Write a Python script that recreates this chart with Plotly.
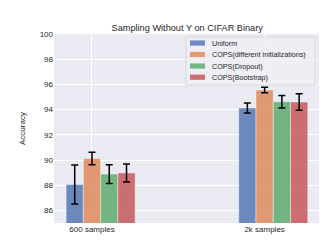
import plotly.graph_objects as go

categories = ["600 samples", "2k samples"]
series_names = ["Uniform", "COPS(different initializations)", "COPS(Dropout)", "COPS(Bootstrap)"]
means = [
    [88.05, 94.13],
    [90.12, 95.55],
    [88.88, 94.62],
    [88.97, 94.6],
]
errors = [
    [1.55, 0.4],
    [0.5, 0.22],
    [0.75, 0.5],
    [0.72, 0.66],
]
colors = ["#4C72B0", "#DD8452", "#55A868", "#C44E52"]
offsets = [-1, 0, 1, 2]
bar_width = 0.1

W, H = 327, 245
ML, MR, MT, MB = 46, 16, 26, 30
PW, PH = W - ML - MR, H - MT - MB


def px_x(x):
    return (x - ML) / PW


def px_y(y):
    return 1 - (y - MT) / PH


fig = go.Figure()
for name, m, e, c, off in zip(series_names, means, errors, colors, offsets):
    fig.add_trace(go.Bar(
        x=[i + off * bar_width for i in range(len(categories))],
        y=m,
        width=bar_width,
        name=name,
        marker=dict(color=c, opacity=0.8, line=dict(color="rgba(255,255,255,0.6)", width=0.8)),
        error_y=dict(type="data", array=e, color="black", thickness=1.5, width=3.5),
        showlegend=False,
    ))

# legend box (drawn to match compact matplotlib legend)
shapes = [dict(type="rect", xref="paper", yref="paper",
               x0=px_x(178), x1=px_x(307), y0=px_y(77), y1=px_y(29),
               fillcolor="rgba(238,238,245,0.85)", line=dict(color="#d4d4d8", width=0.8),
               layer="above")]
annotations = []
row_y = [35, 46.5, 58, 69.2]
for name, c, yc in zip(series_names, colors, row_y):
    shapes.append(dict(type="rect", xref="paper", yref="paper",
                       x0=px_x(182), x1=px_x(197), y0=px_y(yc + 2.6), y1=px_y(yc - 2.6),
                       fillcolor=c, opacity=0.8, line=dict(width=0), layer="above"))
    annotations.append(dict(xref="paper", yref="paper", x=px_x(202), y=px_y(yc),
                            xanchor="left", yanchor="middle", text=name, showarrow=False,
                            font=dict(size=7.2, color="#262626")))

fig.update_layout(
    width=W, height=H,
    margin=dict(l=ML, r=MR, t=MT, b=MB),
    paper_bgcolor="white",
    plot_bgcolor="#EAEAF2",
    barmode="overlay",
    font=dict(family="Liberation Sans, Arial, sans-serif", size=8, color="#262626"),
    title=dict(text="Sampling Without Y on CIFAR Binary", x=0.548, xanchor="center",
               y=1 - 19.3 / H, yanchor="middle", font=dict(size=9.2, color="#262626")),
    showlegend=False,
    shapes=shapes,
    annotations=annotations,
)
fig.update_xaxes(
    range=[-0.22, 1.315],
    tickmode="array", tickvals=list(range(len(categories))), ticktext=categories,
    showgrid=True, gridcolor="white", gridwidth=1, zeroline=False,
    ticks="", ticklen=0, showline=False,
)
fig.update_yaxes(
    range=[85, 100], dtick=2, tick0=86,
    title=dict(text="Accuracy", standoff=12, font=dict(size=8)),
    showgrid=True, gridcolor="white", gridwidth=1, zeroline=False,
    ticks="", showline=False,
)

fig.write_html("out.html")
